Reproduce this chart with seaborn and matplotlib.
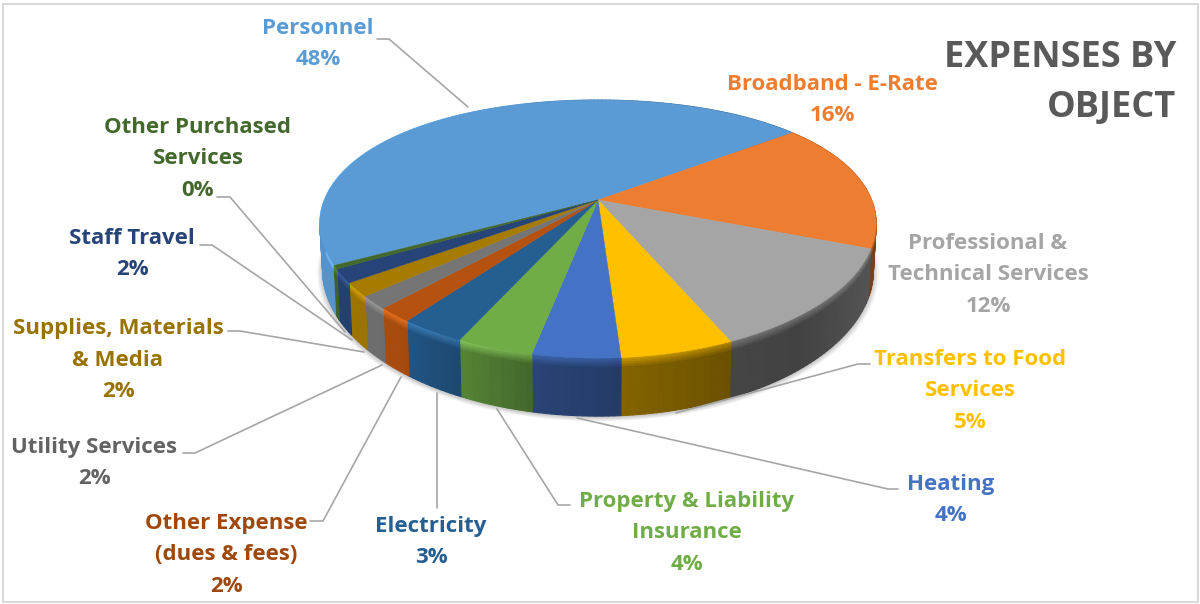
import numpy as np
import matplotlib
matplotlib.use("Agg")
import matplotlib.pyplot as plt
from matplotlib.collections import PolyCollection
from matplotlib.patches import Rectangle
import seaborn as sns

# ---------- data ----------
categories = ["Personnel", "Broadband - E-Rate", "Professional &\nTechnical Services",
              "Transfers to Food\nServices", "Heating", "Property & Liability\nInsurance",
              "Electricity", "Other Expense\n(dues & fees)", "Utility Services",
              "Supplies, Materials\n& Media", "Staff Travel", "Other Purchased\nServices"]
values = [48.49, 16.49, 12.1, 5.3, 4.1, 3.6, 3.1, 1.7, 1.5, 1.6, 1.6, 0.41]
face_hex = ["#5B9BD5", "#ED7D31", "#A5A5A5", "#FFC000", "#4472C4", "#70AD47",
            "#255E91", "#B5520F", "#757575", "#A67C00", "#264478", "#43682B"]
text_hex = ["#5B9BD5", "#ED7D31", "#A5A5A5", "#FFC000", "#4472C4", "#70AD47",
            "#255E91", "#9E480E", "#636363", "#997300", "#264478", "#43682B"]
title_text = "EXPENSES BY\nOBJECT"

# ---------- layout / style ----------
sns.set_theme(style="white")
plt.rcParams["font.family"] = ["Open Sans", "DejaVu Sans"]
palette = np.array(sns.color_palette(face_hex))
text_palette = sns.color_palette(text_hex)

fig = plt.figure(figsize=(12, 6.04), dpi=100)
ax = fig.add_axes([0, 0, 1, 1])
ax.set_xlim(0, 1200)
ax.set_ylim(604, 0)
ax.axis("off")
ax.add_patch(Rectangle((2.5, 3.5), 1195, 598, fill=False, ec="#D9D9D9", lw=1.5, zorder=0))

CX, CY, A, B, K, DEPTH = 598, 200, 271, 122.5, 0.225, 45
SHRINK = 0.99
SIDE_LIFT = 6
START = 35.8


def rim(theta_deg, lower=0.0):
    th = np.radians(theta_deg)
    x, y = np.cos(th), np.sin(th)
    w = 1 + K * y
    s = 1 - (1 - SHRINK) * lower
    return CX + A * x / w * s, CY - B * y / w - SIDE_LIFT * x ** 2 + lower * DEPTH / w


def light(xs):
    return np.interp(xs, [320, 400, 470, 530, 620, 730, 800, 880],
                     [0.95, 0.92, 0.74, 0.60, 0.52, 0.42, 0.40, 0.52])


fractions = np.array(values) / np.sum(values)
edges = START + 360 * fractions[0] - 360 * np.concatenate([[0], np.cumsum(fractions)])

# soft shadow below the pie
ths = np.linspace(0, 360, 361)
for i in range(9):
    sx, sy = rim(ths, 1.0)
    grow = 1 + 0.0022 * (9 - i)
    ax.fill(CX + (sx - CX) * grow, CY + (sy - CY) * grow + 1.0, color="black",
            alpha=0.022, lw=0, zorder=1)

# side walls, built strip by strip
layers = np.array([0, 0.04, 0.08, 0.12, 0.16, 0.2, 1.0])
for i, col in enumerate(palette):
    a0, a1 = edges[i], edges[i + 1]
    n = max(3, int(abs(a1 - a0) / 1.0))
    ang = np.linspace(a0, a1, n + 1)
    polys, cols = [], []
    for j in range(n):
        xm, _ = rim((ang[j] + ang[j + 1]) / 2)
        f = float(light(xm))
        for l0, l1 in zip(layers[:-1], layers[1:]):
            x00, y00 = rim(ang[j], l0)
            x01, y01 = rim(ang[j + 1], l0)
            x11, y11 = rim(ang[j + 1], l1)
            x10, y10 = rim(ang[j], l1)
            polys.append([(x00, y00), (x01, y01), (x11, y11), (x10, y10)])
            t = min(1.0, ((l0 + l1) / 2) / 0.18)
            bevel = f + 0.30
            g = bevel * (1 - t) + f * t
            c = np.clip(col * g + (0.06 * (1 - t) if f > 0.6 else 0), 0, 1)
            cols.append(c)
    ax.add_collection(PolyCollection(polys, facecolors=cols, edgecolors=cols,
                                     linewidths=0.8, zorder=2 + 0.01 * i))

# top face
for i, col in enumerate(palette):
    a0, a1 = edges[i], edges[i + 1]
    ang = np.linspace(a0, a1, max(3, int(abs(a1 - a0) * 2)))
    xs, ys = rim(ang)
    ax.fill(np.r_[CX, xs], np.r_[CY, ys], color=col, lw=0.3, zorder=3)

# category labels with percentages
label_spots = [(318, 44), (832, 100), (988, 275), (970, 391), (951, 500), (687, 533),
               (431, 542), (226, 555), (94, 463), (118, 360), (132, 254), (198, 159)]
for name, val, col, (lx, ly) in zip(categories, values, text_palette, label_spots):
    ax.text(lx, ly, f"{name}\n{round(val)}%", color=col, ha="center", va="center",
            fontsize=16, fontweight="bold", linespacing=1.68, zorder=6)

# leader lines
leaders = [[(377, 39), (389, 39), (468, 107)],
           [(870, 364), (858, 364), (676, 413)],
           [(898, 489), (888, 489), (577, 418)],
           [(570, 505), (558, 505), (497, 409)],
           [(437, 508), (437, 393)],
           [(310, 521), (323, 521), (401, 377)],
           [(183, 453), (195, 453), (382, 365)],
           [(228, 331), (240, 331), (364, 352)],
           [(200, 245), (212, 245), (352, 340)],
           [(217, 197), (230, 197), (345, 332)]]
for pts in leaders:
    px, py = zip(*pts)
    ax.plot(px, py, color="#A6A6A6", lw=1.2, zorder=5, solid_joinstyle="miter")

ax.text(1176, 83, title_text, color="#595959", ha="right", va="center", fontsize=26,
        fontweight="bold", linespacing=1.5, zorder=6)

fig.savefig("out.png", dpi=100, facecolor="white")
